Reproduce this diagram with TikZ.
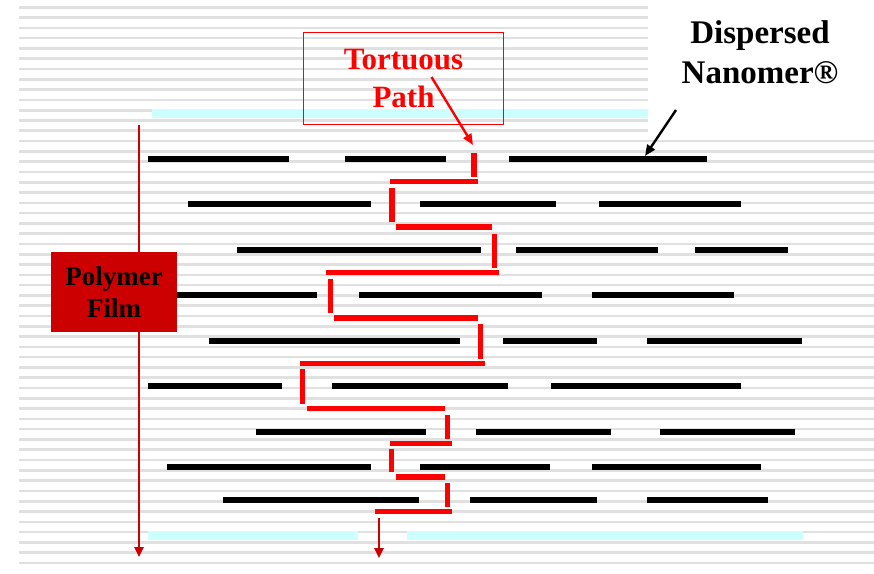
\documentclass[tikz,border=0pt]{standalone}
\usepackage{fontspec}
\setmainfont{Liberation Serif}
\usetikzlibrary{arrows.meta}
\definecolor{pathred}{HTML}{FF0000}
\definecolor{filmred}{HTML}{CC0000}
\definecolor{stripecol}{HTML}{E0E0E0}
\definecolor{cyanbar}{HTML}{CCFFFF}
\begin{document}
\begin{tikzpicture}[x=1pt,y=-1pt,
  stripeline/.style={draw=stripecol, line width=2.6pt},
  platelet/.style={draw=black, line width=5.6pt},
  redseg/.style={draw=pathred, line width=5.2pt},
  cyanstrip/.style={draw=cyanbar, line width=9pt},
  filmarrow/.style={draw=filmred, line width=2.4pt, -{Triangle[length=10pt,width=9pt]}},
  filmbox/.style={fill=filmred, minimum width=126.6pt, minimum height=80pt, inner sep=0pt,
    font=\fontsize{27}{31.6}\selectfont\bfseries, align=center, text=black},
  pathbox/.style={draw=pathred, line width=1.3pt, minimum width=200pt, minimum height=91.6pt,
    inner sep=0pt, text=pathred, font=\fontsize{31}{37}\selectfont\bfseries, align=center},
  labeltext/.style={inner sep=0pt, font=\fontsize{33}{40}\selectfont\bfseries, align=center},
  pointer/.style={line width=2.4pt, -{Triangle[length=11pt,width=9pt]}}
]
\useasboundingbox (0,0) rectangle (874,573);
\fill[white] (0,0) rectangle (874,573);
% background stripes
\foreach \k in {0,...,54}{
  \pgfmathsetmacro\yy{7.3+10.29*\k}
  \pgfmathsetmacro\xr{\yy<135 ? 648 : 874}
  \draw[stripeline] (19,\yy) -- (\xr,\yy);
}
% cyan film surfaces
\draw[cyanstrip] (152,113.5) -- (648,113.5);
\draw[cyanstrip] (148,535) -- (358,535);
\draw[cyanstrip] (407,535) -- (803,535);
% nanomer platelets
\foreach \y/\a/\b in {
  159/148/289, 159/345/446, 159/509/707,
  204/188/371, 204/420/556, 204/599/741,
  250/237/481, 250/516/658, 250/695/788,
  295/170/317, 295/359/542, 295/592/734,
  341/209/460, 341/503/597, 341/647/802,
  386/148/282, 386/332/508, 386/551/741,
  432/256/426, 432/476/611, 432/660/795,
  467/167/371, 467/420/550, 467/592/761,
  500/223/419, 500/470/597, 500/647/768}
  \draw[platelet] (\a,\y) -- (\b,\y);
% tortuous path: vertical pieces
\foreach \x/\a/\b in {
  474/152.7/177, 392/188/222, 494.7/233.7/267.7, 330.2/279/313,
  480.5/324.3/359, 302.6/369.3/404.3, 447.3/415.3/439.3,
  391.8/448.7/472, 447.3/483.3/507.3}
  \draw[redseg] (\x,\a) -- (\x,\b);
% tortuous path: horizontal pieces
\foreach \y/\a/\b in {
  181.7/389.5/478.3, 227/396.4/492, 272.7/326.3/498.9, 318/333.6/478.3,
  363.7/300.3/485.1, 408.7/307.2/445, 443.7/389.5/451.5, 477/396.4/445,
  511.7/375.3/451.5}
  \draw[redseg] (\a,\y) -- (\b,\y);
% film thickness arrow and exit arrow
\coordinate (filmtop) at (139,125);
\coordinate (filmbot) at (139,557);
\draw[filmarrow] (filmtop) -- (filmbot);
\coordinate (exittop) at (379,518);
\coordinate (exitbot) at (379,558);
\draw[filmarrow] (exittop) -- (exitbot);
% labels
\node[filmbox] (film) at (114,292.3) {Polymer\\Film};
\node[pathbox] (tp) at (403.5,78.5) {Tortuous\\Path};
\node[labeltext] (dn) at (760,52.5) {Dispersed\\Nanomer®};
\coordinate (tpfrom) at (431.5,77);
\coordinate (tpto) at (473,145);
\draw[pointer, draw=pathred] (tpfrom) -- (tpto);
\coordinate (dnfrom) at (676,110);
\coordinate (dnto) at (645,156);
\draw[pointer] (dnfrom) -- (dnto);
\end{tikzpicture}
\end{document}
